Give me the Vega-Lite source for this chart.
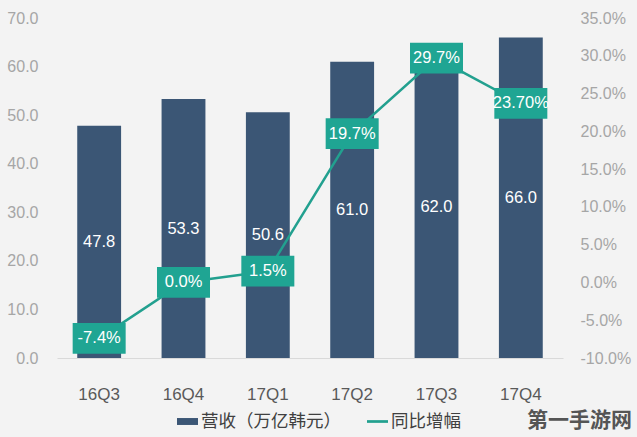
{
  "$schema": "https://vega.github.io/schema/vega-lite/v6.json",
  "width": 506,
  "height": 340,
  "autosize": {"type": "none"},
  "padding": {"left": 57, "top": 18, "right": 74, "bottom": 79},
  "background": "#f3f3f3",
  "config": {
    "view": {"stroke": null},
    "font": "Liberation Sans, Noto Sans CJK SC",
    "axis": {"grid": false, "ticks": false},
    "locale": {"number": {"decimal": ".", "thousands": ",", "grouping": [3], "currency": ["$", ""], "minus": "-"}}
  },
  "title": {
    "text": "第一手游网",
    "orient": "bottom",
    "anchor": "end",
    "align": "right",
    "frame": "group",
    "fontSize": 21,
    "fontWeight": "bold",
    "color": "#555555",
    "font": "Noto Sans CJK SC",
    "offset": -20,
    "dx": 69
  },
  "data": {
    "values": [
      {"q": "16Q3", "revenue": 47.8, "growth": -0.074, "glabel": "-7.4%"},
      {"q": "16Q4", "revenue": 53.3, "growth": 0.0, "glabel": "0.0%"},
      {"q": "17Q1", "revenue": 50.6, "growth": 0.015, "glabel": "1.5%"},
      {"q": "17Q2", "revenue": 61.0, "growth": 0.197, "glabel": "19.7%"},
      {"q": "17Q3", "revenue": 62.0, "growth": 0.297, "glabel": "29.7%"},
      {"q": "17Q4", "revenue": 66.0, "growth": 0.237, "glabel": "23.70%"}
    ]
  },
  "encoding": {
    "x": {
      "field": "q",
      "type": "nominal",
      "sort": null,
      "scale": {"paddingInner": 0.48, "paddingOuter": 0.24},
      "axis": {
        "title": null,
        "labelAngle": 0,
        "labelColor": "#595959",
        "labelFontSize": 17,
        "labelPadding": 28,
        "domainColor": "#d9d9d9",
        "domainWidth": 1
      }
    }
  },
  "layer": [
    {
      "mark": {"type": "bar"},
      "encoding": {
        "y": {
          "field": "revenue",
          "type": "quantitative",
          "scale": {"domain": [0, 70]},
          "axis": {
            "orient": "left",
            "title": null,
            "values": [0, 10, 20, 30, 40, 50, 60, 70],
            "format": ".1f",
            "labelColor": "#a6a6a6",
            "labelFontSize": 16,
            "labelPadding": 19,
            "domain": false
          }
        },
        "color": {
          "datum": "营收（万亿韩元）",
          "scale": {"domain": ["营收（万亿韩元）", "同比增幅"], "range": ["#3b5675", "#22a08f"]},
          "legend": {
            "orient": "none",
            "legendX": 120,
            "legendY": 393,
            "direction": "horizontal",
            "title": null,
            "symbolType": "M-1,-0.33H1V0.33H-1Z",
            "symbolSize": 441,
            "labelFontSize": 17.5,
            "labelColor": "#404040",
            "labelFont": "Noto Sans CJK SC",
            "columnPadding": 26,
            "labelOffset": 3,
            "labelLimit": 300,
            "encode": {
              "symbols": {
                "update": {
                  "shape": {"signal": "datum.value === '同比增幅' ? 'M-1,-0.13H1V0.13H-1Z' : 'M-1,-0.33H1V0.33H-1Z'"},
                  "fill": {"signal": "datum.value === '同比增幅' ? '#22a08f' : '#3b5675'"},
                  "strokeWidth": {"value": 0},
                  "opacity": {"value": 1}
                }
              }
            }
          }
        }
      }
    },
    {
      "transform": [{"calculate": "datum.revenue / 2", "as": "mid"}],
      "mark": {"type": "text", "color": "white", "fontSize": 16.5},
      "encoding": {
        "y": {"field": "mid", "type": "quantitative", "scale": {"domain": [0, 70]}, "axis": null},
        "text": {"field": "revenue", "type": "quantitative", "format": ".1f"}
      }
    },
    {
      "mark": {"type": "line", "strokeWidth": 2.5},
      "encoding": {
        "y": {
          "field": "growth",
          "type": "quantitative",
          "scale": {"domain": [-0.1, 0.35]},
          "axis": {
            "orient": "right",
            "title": null,
            "values": [-0.1, -0.05, 0, 0.05, 0.1, 0.15, 0.2, 0.25, 0.3, 0.35],
            "format": ".1%",
            "labelColor": "#a6a6a6",
            "labelFontSize": 16,
            "labelPadding": 17,
            "domain": false
          }
        },
        "color": {"datum": "同比增幅"}
      }
    },
    {
      "mark": {"type": "point", "shape": "M-1,-0.58H1V0.58H-1Z", "filled": true, "size": 2809, "color": "#1fa593", "opacity": 1, "strokeWidth": 0},
      "encoding": {
        "y": {"field": "growth", "type": "quantitative", "scale": {"domain": [-0.1, 0.35]}, "axis": null}
      }
    },
    {
      "mark": {"type": "text", "color": "white", "fontSize": 16.5},
      "encoding": {
        "y": {"field": "growth", "type": "quantitative", "scale": {"domain": [-0.1, 0.35]}, "axis": null},
        "text": {"field": "glabel"}
      }
    }
  ],
  "resolve": {"scale": {"y": "independent"}}
}
